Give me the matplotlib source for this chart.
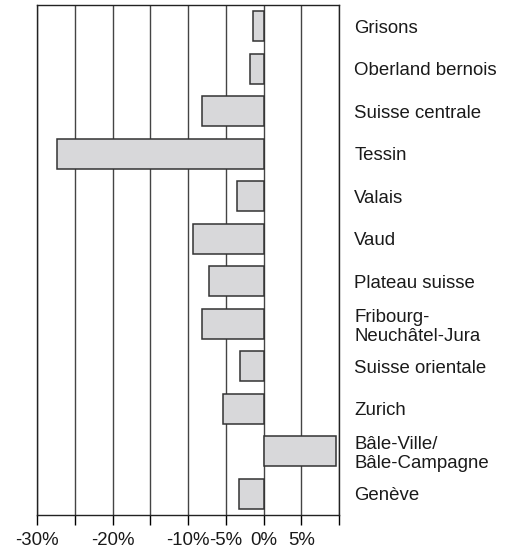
import numpy as np
import matplotlib.pyplot as plt

regions = ["Grisons", "Oberland bernois", "Suisse centrale", "Tessin", "Valais",
           "Vaud", "Plateau suisse", "Fribourg-\nNeuchâtel-Jura", "Suisse orientale",
           "Zurich", "Bâle-Ville/\nBâle-Campagne", "Genève"]
change = [-1.4, -1.8, -8.2, -27.4, -3.5, -9.3, -7.2, -8.2, -3.1, -5.3, 9.6, -3.2]

grid_pos = [-30, -25, -20, -15, -10, -5, 0, 5, 10]
tick_labels = ["-30%", "", "-20%", "", "-10%", "-5%", "0%", "5%", ""]

plt.rcParams['font.family'] = ['Liberation Sans', 'DejaVu Sans']

fig = plt.figure(figsize=(5.12, 5.54), dpi=100)
ax = fig.add_axes([37/512, 1 - 515/554, (339 - 37)/512, 510/554])

y = np.arange(len(regions))
for g in grid_pos:
    ax.axvline(g, color='#444444', lw=1.0, zorder=1)
ax.barh(y, change, height=0.71, color='#d8d8da', edgecolor='#333333', lw=1.1, zorder=3)

ax.set_xlim(-30, 10)
ax.set_ylim(len(regions) - 0.5, -0.5)

ax.set_xticks(grid_pos)
ax.set_xticklabels(tick_labels, fontsize=13.4, color='#1a1a1a')
ax.tick_params(axis='x', direction='out', length=7, width=1, pad=5)

ax.yaxis.tick_right()
ax.set_yticks(y)
ax.set_yticklabels(regions, fontsize=13.4, linespacing=1.15, color='#1a1a1a')
ax.tick_params(axis='y', length=0, pad=11)

for s in ax.spines.values():
    s.set_color('#222222')
    s.set_linewidth(1.0)

fig.savefig('out.png', dpi=100)
